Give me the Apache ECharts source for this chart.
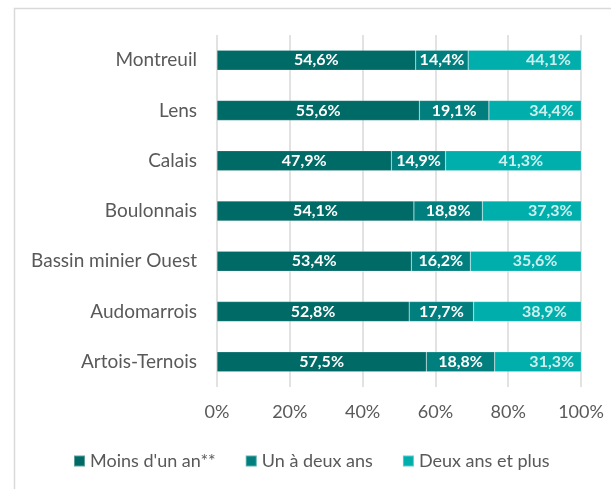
<!DOCTYPE html>
<html><head><meta charset="utf-8">
<script src="https://cdn.jsdelivr.net/npm/echarts@6/dist/echarts.min.js"></script>
<style>html,body{margin:0;padding:0;background:#fff}#c{width:611px;height:489px}</style>
</head><body><div id="c"></div>
<script>
var categories = ["Montreuil", "Lens", "Calais", "Boulonnais", "Bassin minier Ouest", "Audomarrois", "Artois-Ternois"];
var seriesNames = ["Moins d'un an**", "Un à deux ans", "Deux ans et plus"];
var moinsUnAn = [54.6, 55.6, 47.9, 54.1, 53.4, 52.8, 57.5];
var unADeuxAns = [14.4, 19.1, 14.9, 18.8, 16.2, 17.7, 18.8];
var deuxAnsPlus = [44.1, 34.4, 41.3, 37.3, 35.6, 38.9, 31.3];
var xTicks = [0, 20, 40, 60, 80, 100];
var colors = ["#006A67", "#007F7E", "#00AFAC"];

function fmt(v) { return v.toFixed(1).replace('.', ',') + '%'; }
var FONT = 'Lato';
var barLabel = { show: true, position: 'inside', color: '#fff', fontWeight: 'bold', fontSize: 16, fontFamily: FONT,
  formatter: function (p) { return fmt(p.value); } };

var labelPoints = deuxAnsPlus.map(function (v, i) { return [moinsUnAn[i] + unADeuxAns[i] + v / 2, i, v]; });

var chart = echarts.init(document.getElementById('c'));
chart.setOption({
  animation: false,
  color: colors,
  graphic: [{ type: 'rect', shape: { x: 14.5, y: 8.5, width: 700, height: 600 }, style: { fill: 'none', stroke: '#d9d9d9', lineWidth: 1.5 }, silent: true, z: -1 }],
  grid: { left: 217, right: 30, top: 35, bottom: 102 },
  legend: { data: seriesNames, left: 73, top: 452, padding: 0, itemWidth: 11, itemHeight: 11, itemGap: 29, icon: 'rect',
    textStyle: { color: '#595959', fontSize: 18, fontFamily: FONT } },
  xAxis: { type: 'value', min: xTicks[0], max: xTicks[xTicks.length - 1], interval: 20,
    axisLine: { show: false }, axisTick: { show: false },
    splitLine: { lineStyle: { color: '#d9d9d9', width: 1.5 } },
    axisLabel: { formatter: '{value}%', color: '#595959', fontSize: 18, fontFamily: FONT, margin: 16 } },
  yAxis: { type: 'category', data: categories, inverse: true,
    axisLine: { show: false }, axisTick: { show: false },
    axisLabel: { color: '#595959', fontSize: 19, fontFamily: FONT, margin: 20 } },
  series: [
    { name: seriesNames[0], type: 'bar', stack: 't', data: moinsUnAn, barWidth: 20, label: barLabel,
      itemStyle: { borderColor: 'rgba(255,255,255,0.35)', borderWidth: 0.5 } },
    { name: seriesNames[1], type: 'bar', stack: 't', data: unADeuxAns, barWidth: 20, label: barLabel,
      itemStyle: { borderColor: 'rgba(255,255,255,0.35)', borderWidth: 0.5 } },
    { name: seriesNames[2], type: 'bar', stack: 't', data: deuxAnsPlus, barWidth: 20, label: { show: false },
      itemStyle: { borderColor: 'rgba(255,255,255,0.35)', borderWidth: 0.5 } },
    { name: 'labels', type: 'scatter', data: labelPoints, symbolSize: 0, z: 5, silent: true,
      label: { show: true, position: 'inside', color: '#fff', fontWeight: 'bold', fontSize: 16, fontFamily: FONT,
        formatter: function (p) { return fmt(p.value[2]); } } }
  ]
});
</script></body></html>
